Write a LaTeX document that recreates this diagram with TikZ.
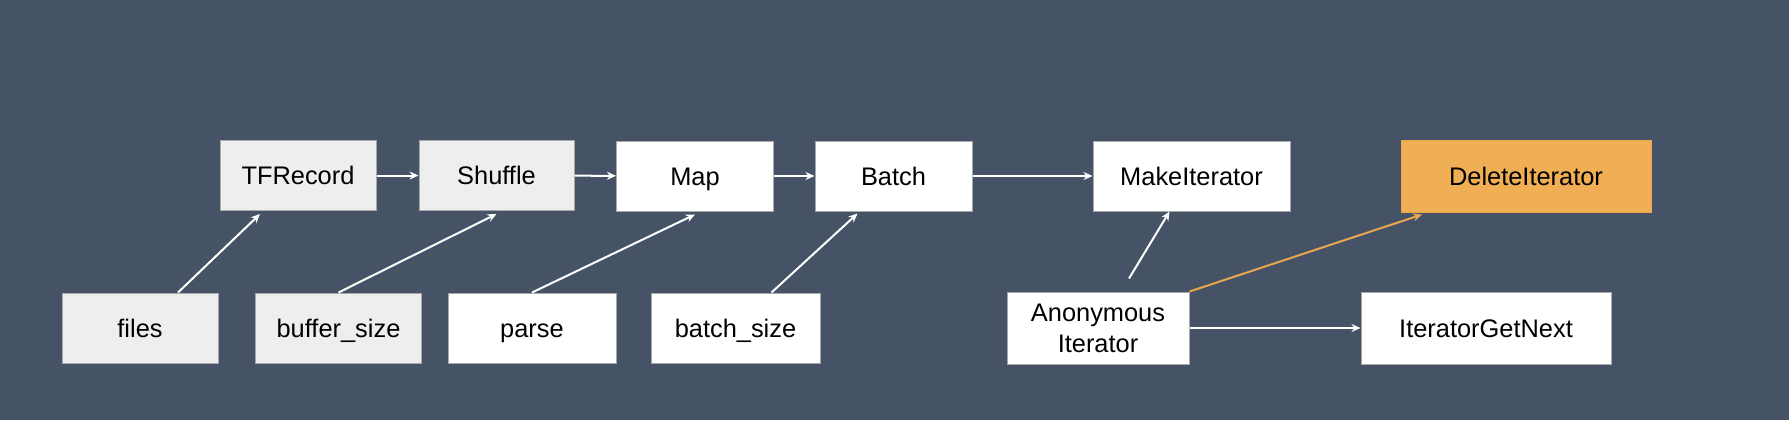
\documentclass[tikz,border=0pt]{standalone}
\usepackage{fontspec}
\setmainfont{Liberation Sans}
\usepackage{tikz}
\usetikzlibrary{arrows.meta}
\usetikzlibrary{positioning}

\definecolor{bgslate}{HTML}{465366}
\definecolor{boxgray}{HTML}{EEEEEE}
\definecolor{boxedge}{HTML}{A8A8A8}
\definecolor{delorange}{HTML}{F1AF55}
\definecolor{lineorange}{HTML}{E9A64E}

\begin{document}
\begin{tikzpicture}
	[x=0.5pt,y=-0.5pt,
	 every node/.style={font=\fontsize{12.7}{15.5}\selectfont, text=black, inner sep=0pt, align=center},
	 opbox/.style={draw=boxedge, line width=0.5pt, minimum height=35pt, text height=9.1pt, text depth=0pt},
	 graybox/.style={opbox, fill=boxgray},
	 whitebox/.style={opbox, fill=white},
	 orangebox/.style={opbox, fill=delorange, draw=lineorange},
	 flow/.style={draw=white, line width=1pt, -{Stealth[length=4.5pt,width=4pt]}},
	 flowdel/.style={flow, draw=lineorange, fill=lineorange}]
	\fill[bgslate] (0,0) rectangle (1789,420);
	% upper row
	\node[graybox, minimum width=78pt] (tfrecord) at (298,175.5) {TFRecord};
	\node[graybox, minimum width=77.5pt] (shuffle) at (496.5,175.5) {Shuffle};
	\node[whitebox, minimum width=78.5pt] (map) at (695,176) {Map};
	\node[whitebox, minimum width=78.5pt] (batch) at (893.5,176) {Batch};
	\node[whitebox, minimum width=98.5pt] (makeiter) at (1191.5,176) {MakeIterator};
	\node[orangebox, minimum width=125pt, minimum height=36pt] (deleteiter) at (1526,176) {DeleteIterator};
	% lower row
	\node[graybox, minimum width=78pt] (files) at (140,328) {files};
	\node[graybox, minimum width=83pt] (buffersize) at (338.5,328) {buffer\_size};
	\node[whitebox, minimum width=84pt] (parse) at (532,328) {parse};
	\node[whitebox, minimum width=84.5pt] (batchsize) at (735.5,328) {batch\_size};
	\node[whitebox, minimum width=91pt, minimum height=36pt, text height=, text depth=] (anoniter) at (1098,328) {Anonymous\\Iterator};
	\node[whitebox, minimum width=125pt, minimum height=36pt] (getnext) at (1486,328) {IteratorGetNext};
	% connections
	\draw[flow] (tfrecord) -- (shuffle);
	\draw[flow] (shuffle) -- (map);
	\draw[flow] (map) -- (batch);
	\draw[flow] (batch) -- (makeiter);
	\draw[flow] ([xshift=19pt]files.north) -- ([xshift=-19pt,yshift=-1.5pt]tfrecord.south);
	\draw[flow] (buffersize.north) -- ([yshift=-1.5pt]shuffle.south);
	\draw[flow] (parse.north) -- ([yshift=-1.5pt]map.south);
	\draw[flow] ([xshift=18pt]batchsize.north) -- ([xshift=-18pt,yshift=-1pt]batch.south);
	\draw[flow] ([xshift=15.5pt,yshift=6.5pt]anoniter.north) -- ([xshift=-11pt]makeiter.south);
	\draw[flowdel] (anoniter.north east) -- ([xshift=-52pt,yshift=-1pt]deleteiter.south);
	\draw[flow] (anoniter.east) -- (getnext.west);
\end{tikzpicture}
\end{document}
